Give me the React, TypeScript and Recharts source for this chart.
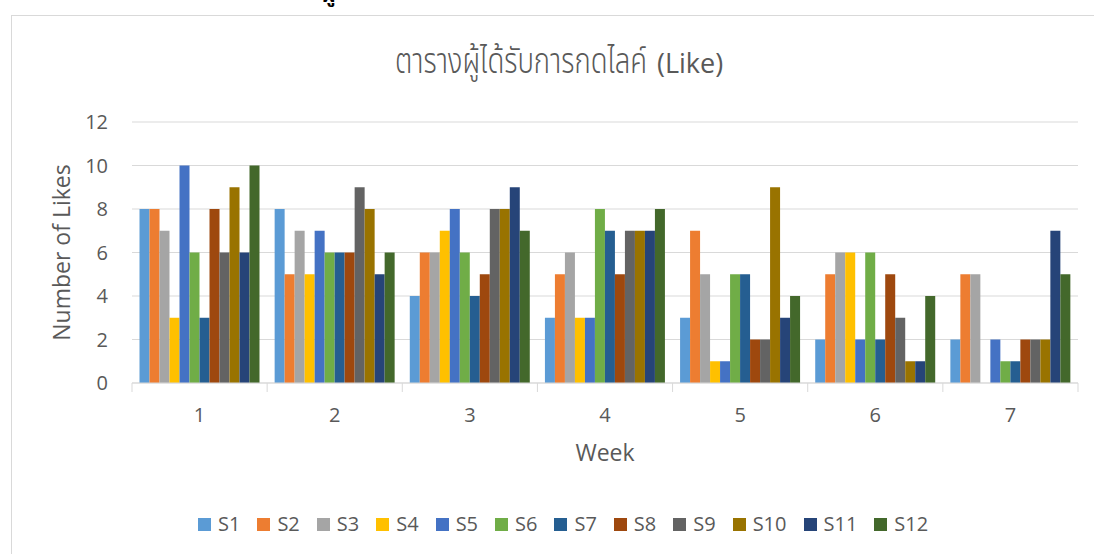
import React from 'react';
import { BarChart, Bar, XAxis, YAxis, CartesianGrid } from 'recharts';

const weeks = ['1', '2', '3', '4', '5', '6', '7'];
const seriesNames = ['S1', 'S2', 'S3', 'S4', 'S5', 'S6', 'S7', 'S8', 'S9', 'S10', 'S11', 'S12'];
const seriesColors = ['#5B9BD5', '#ED7D31', '#A5A5A5', '#FFC000', '#4472C4', '#70AD47', '#255E91', '#9E480E', '#636363', '#997300', '#264478', '#43682B'];

const S1 = [8, 8, 4, 3, 3, 2, 2];
const S2 = [8, 5, 6, 5, 7, 5, 5];
const S3 = [7, 7, 6, 6, 5, 6, 5];
const S4 = [3, 5, 7, 3, 1, 6, 0];
const S5 = [10, 7, 8, 3, 1, 2, 2];
const S6 = [6, 6, 6, 8, 5, 6, 1];
const S7 = [3, 6, 4, 7, 5, 2, 1];
const S8 = [8, 6, 5, 5, 2, 5, 2];
const S9 = [6, 9, 8, 7, 2, 3, 2];
const S10 = [9, 8, 8, 7, 9, 1, 2];
const S11 = [6, 5, 9, 7, 3, 1, 7];
const S12 = [10, 6, 7, 8, 4, 4, 5];
const yTicks = [0, 2, 4, 6, 8, 10, 12];

const titleThai = 'ตารางผู้ได้รับการกดไลค์';
const titleLatin = '(Like)';
const yLabel = 'Number of Likes';
const xLabel = 'Week';
const topFragment = 'ผู';

const allSeries = [S1, S2, S3, S4, S5, S6, S7, S8, S9, S10, S11, S12];
const data = weeks.map((w, i) => {
  const row: Record<string, string | number> = { week: w };
  seriesNames.forEach((n, j) => {
    row[n] = allSeries[j][i];
  });
  return row;
});

const FONT = '"Open Sans", "Noto Sans", sans-serif';
const THAI = '"Noto Sans Thai", "Noto Sans Thai Looped", Tahoma, sans-serif';
const TXT = '#595959';
const GRID = '#d9d9d9';

const XTick = (props: any) => {
  const { x, y, payload, index, visibleTicksCount } = props;
  const half = payload && payload.offset ? payload.offset : 0;
  const last = index === (visibleTicksCount ?? 7) - 1;
  return (
    <g>
      <line x1={x - half} x2={x - half} y1={y} y2={y + 9} stroke={GRID} strokeWidth={1} />
      {last && <line x1={x + half} x2={x + half} y1={y} y2={y + 9} stroke={GRID} strokeWidth={1} />}
      <text x={x} y={y + 39} textAnchor="middle" fill={TXT} fontSize={20} fontFamily={FONT}>
        {payload.value}
      </text>
    </g>
  );
};

export default function App() {
  return (
    <div style={{ position: 'absolute', left: 0, top: 0, width: 1094, height: 554, overflow: 'hidden', background: '#fff' }}>
      <div style={{ position: 'absolute', left: 11, top: 15, width: 1200, height: 700, border: `1px solid ${GRID}`, boxSizing: 'border-box' }} />
      <svg style={{ position: 'absolute', left: 0, top: 0 }} width={1094} height={100}>
        <text x={322} y={2} fill="#000" fontSize={20} fontWeight={700} fontFamily={THAI}>
          {topFragment}
        </text>
        <text x={395} y={73} fill={TXT} fontSize={35} textLength={252} lengthAdjust="spacingAndGlyphs" fontFamily={THAI} style={{ fontWeight: 300 }}>
          {titleThai}
        </text>
        <text x={657} y={73} fill={TXT} fontSize={27} fontFamily={FONT}>
          {titleLatin}
        </text>
      </svg>
      <div style={{ position: 'absolute', left: 0, top: 0 }}>
        <BarChart
          width={1094}
          height={554}
          data={data}
          margin={{ top: 122, right: 16, left: 0, bottom: 31 }}
          barCategoryGap={7.5}
          barGap={0}
        >
          <CartesianGrid vertical={false} stroke={GRID} strokeWidth={1} />
          <XAxis
            dataKey="week"
            height={140}
            axisLine={{ stroke: GRID }}
            tickLine={false}
            tickSize={0}
            tickMargin={0}
            interval={0}
            tick={<XTick />}
            label={{ value: xLabel, position: 'center', fill: TXT, fontSize: 23, fontFamily: FONT }}
          />
          <YAxis
            width={132}
            domain={[0, 12]}
            ticks={yTicks}
            axisLine={false}
            tickLine={false}
            tickSize={0}
            tickMargin={24}
            tick={{ fill: TXT, fontSize: 20, fontFamily: FONT }}
            label={{ value: yLabel, angle: -90, position: 'center', dx: -4, fill: TXT, fontSize: 23, fontFamily: FONT }}
          />
          {seriesNames.map((n, j) => (
            <Bar key={n} dataKey={n} fill={seriesColors[j]} isAnimationActive={false} />
          ))}
        </BarChart>
      </div>
      <div style={{ position: 'absolute', left: 198, top: 510, display: 'flex', alignItems: 'center', fontFamily: FONT, fontSize: 20, color: TXT, lineHeight: '28px' }}>
        {seriesNames.map((n, j) => (
          <div key={n} style={{ display: 'flex', alignItems: 'center', marginRight: 17 }}>
            <span style={{ display: 'inline-block', width: 13, height: 13, background: seriesColors[j], marginRight: 7 }} />
            <span>{n}</span>
          </div>
        ))}
      </div>
    </div>
  );
}
